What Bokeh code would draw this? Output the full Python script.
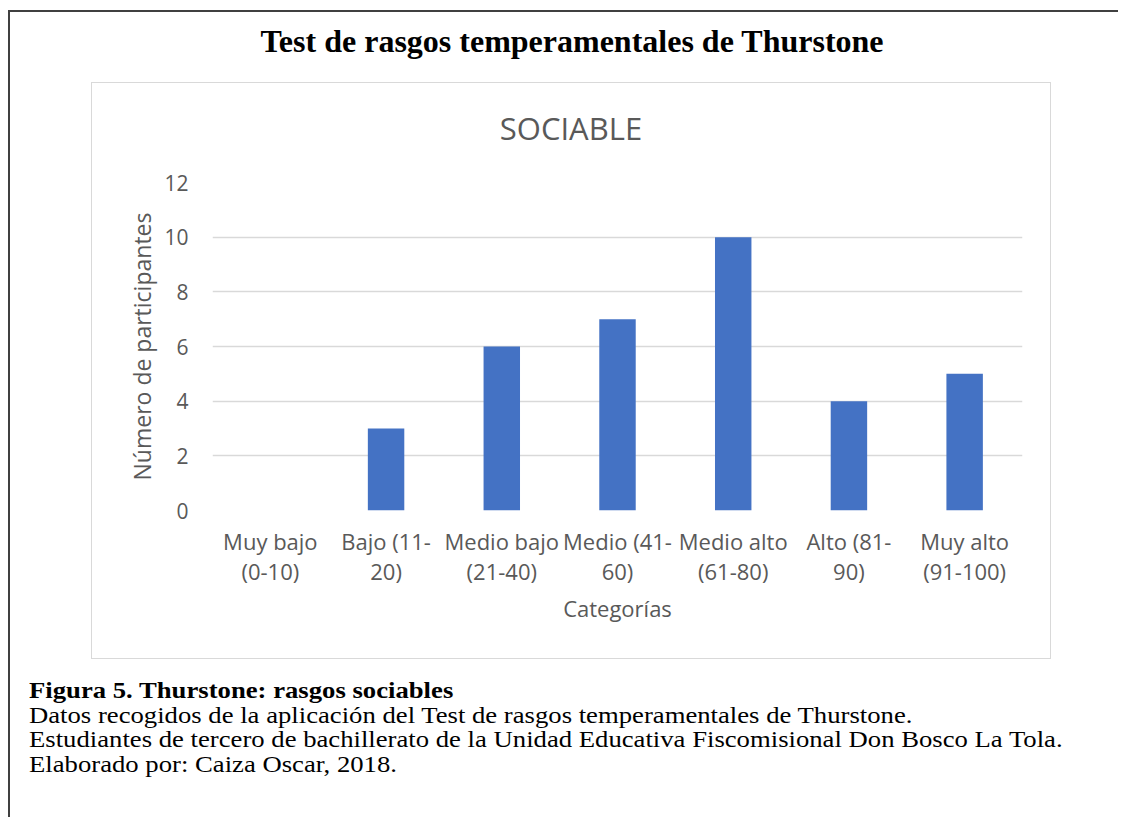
from bokeh.plotting import figure
from bokeh.models import FixedTicker, ColumnDataSource, Div, Column
from bokeh.embed import file_html
from bokeh.resources import INLINE

# ---- data ----
categories = ["Muy bajo\n(0-10)", "Bajo (11-\n20)", "Medio bajo\n(21-40)", "Medio (41-\n60)",
              "Medio alto\n(61-80)", "Alto (81-\n90)", "Muy alto\n(91-100)"]
participants = [0, 3, 6, 7, 10, 4, 5]
y_ticks = [0, 2, 4, 6, 8, 10, 12]

outer_title = "Test de rasgos temperamentales de Thurstone"
chart_title = "SOCIABLE"
y_label = "Número de participantes"
x_label = "Categorías"
caption_bold = "Figura 5. Thurstone: rasgos sociables"
caption_lines = [
    "Datos recogidos de la aplicación del Test de rasgos temperamentales de Thurstone.",
    "Estudiantes de tercero de bachillerato de la Unidad Educativa Fiscomisional Don Bosco La Tola.",
    "Elaborado por: Caiza Oscar, 2018.",
]

GRAY = "#595959"

# chart box: page x 91..1051, y 82..659 ; plot frame: x 212..1022, y 182..510
p = figure(x_range=categories, y_range=(0, 12), width=958, height=509, title=None,
           output_backend="svg", toolbar_location=None,
           min_border_left=120, min_border_right=28, min_border_top=33, min_border_bottom=148,
           margin=(0, 0, 0, 0))
p.outline_line_color = None
p.background_fill_color = "white"
p.border_fill_color = "white"

src = ColumnDataSource(dict(x=categories, top=participants))
p.vbar(x="x", top="top", width=0.315, source=src, fill_color="#4472C4", line_color=None)

# grid
p.xgrid.grid_line_color = None
p.ygrid.grid_line_color = "#D9D9D9"
p.ygrid.grid_line_width = 1.5
p.yaxis.ticker = FixedTicker(ticks=y_ticks)

# y axis
p.yaxis.axis_line_color = None
p.yaxis.major_tick_line_color = None
p.yaxis.minor_tick_line_color = None
p.yaxis.major_tick_out = 0
p.yaxis.major_label_standoff = 24
p.yaxis.major_label_text_font = "Open Sans"
p.yaxis.major_label_text_font_size = "21px"
p.yaxis.major_label_text_color = GRAY
p.yaxis.axis_label = y_label
p.yaxis.axis_label_text_font = "Open Sans"
p.yaxis.axis_label_text_font_size = "23px"
p.yaxis.axis_label_text_font_style = "normal"
p.yaxis.axis_label_text_color = GRAY
p.yaxis.axis_label_standoff = 3

# x axis
p.xaxis.axis_line_color = None
p.xaxis.major_tick_line_color = None
p.xaxis.major_tick_out = 0
p.xaxis.major_label_standoff = 15
p.xaxis.major_label_text_font = "Open Sans"
p.xaxis.major_label_text_font_size = "22px"
p.xaxis.major_label_text_line_height = 1.0
p.xaxis.major_label_text_color = GRAY
p.xaxis.axis_label = x_label
p.xaxis.axis_label_text_font = "Open Sans"
p.xaxis.axis_label_text_font_size = "22px"
p.xaxis.axis_label_text_font_style = "normal"
p.xaxis.axis_label_text_color = GRAY
p.xaxis.axis_label_standoff = 4

sociable_div = Div(text=chart_title, width=958, height=42, margin=(24, 0, 0, 0),
                   styles={"font-family": "Open Sans", "font-size": "31px",
                           "text-align": "center", "color": GRAY, "line-height": "normal"})

chart_box = Column(children=[sociable_div, p], width=958, height=575, margin=(19, 0, 0, 81),
                   styles={"border": "1px solid #D9D9D9", "box-sizing": "content-box",
                           "background": "white"})

title_div = Div(text=outer_title, width=1000, height=40, margin=(11, 0, 0, 62),
                styles={"font-family": "Liberation Serif", "font-size": "32px",
                        "font-weight": "bold", "text-align": "center", "color": "black",
                        "line-height": "normal"})

caption_html = "<b>" + caption_bold + "</b><br>" + "<br>".join(caption_lines)
caption_div = Div(text=caption_html, width=890, height=110, margin=(20, 0, 0, 19),
                  styles={"font-family": "Liberation Serif", "font-size": "22.5px",
                          "color": "black", "line-height": "24.5px", "white-space": "nowrap",
                          "transform": "scaleX(1.186)", "transform-origin": "left top"})

layout = Column(children=[title_div, chart_box, caption_div], width=1108, height=805,
                margin=(10, 0, 0, 8),
                styles={"border-left": "2px solid #404040", "border-top": "2px solid #404040",
                        "box-sizing": "content-box", "background": "white"})

open("out.html", "w").write(file_html(layout, INLINE))
